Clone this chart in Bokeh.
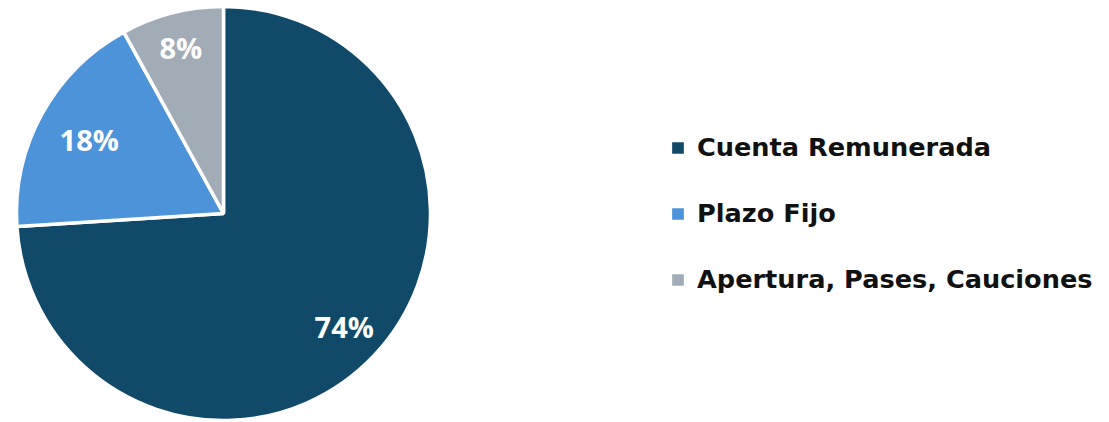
import math
from bokeh.plotting import figure
from bokeh.models import Range1d, Legend, LegendItem
from bokeh.core.properties import value
from bokeh.embed import file_html
from bokeh.resources import INLINE

categories = ["Cuenta Remunerada", "Plazo Fijo", "Apertura, Pases, Cauciones"]
shares = [74, 18, 8]
labels = ["74%", "18%", "8%"]
colors = ["#114A69", "#4D93D9", "#A2ACB6"]

W, H = 1109, 422
p = figure(width=W, height=H, output_backend="svg", toolbar_location=None,
           x_range=Range1d(0, W), y_range=Range1d(0, H), min_border=0)
p.axis.visible = False
p.grid.visible = False
p.outline_line_color = None
p.background_fill_color = "white"
p.border_fill_color = "white"

cx, cy, r = 223, H - 213, 207
total = float(sum(shares))
starts, ends, mids = [], [], []
cum = 0.0
for s in shares:
    a0 = math.pi / 2 - 2 * math.pi * cum / total
    cum += s
    a1 = math.pi / 2 - 2 * math.pi * cum / total
    starts.append(a0)
    ends.append(a1)
    mids.append((a0 + a1) / 2)

label_rf = [0.80, 0.74, 0.83]
lx = [cx + f * r * math.cos(m) for f, m in zip(label_rf, mids)]
ly = [cy + f * r * math.sin(m) for f, m in zip(label_rf, mids)]

items = []
for i in range(len(shares)):
    rnd = p.wedge(x=cx, y=cy, radius=r, start_angle=starts[i], end_angle=ends[i],
                  direction="clock", fill_color=colors[i], line_color="white", line_width=3.5)
    items.append(LegendItem(label=categories[i], renderers=[rnd]))

p.text(x=lx, y=ly, text=labels, text_color="white", text_font=value("Open Sans"),
       text_font_style="bold", text_font_size="29px", text_align="center",
       text_baseline="middle")

legend = Legend(items=items, location=(668, H - 294), orientation="vertical",
                label_text_font="DejaVu Sans", label_text_font_style="bold",
                label_text_font_size="25.6px", label_text_color="#111111",
                glyph_width=19, glyph_height=19, label_standoff=10,
                spacing=36, padding=0, margin=0, border_line_color=None,
                background_fill_alpha=0)
p.add_layout(legend)

open("out.html", "w").write(file_html(p, INLINE))
